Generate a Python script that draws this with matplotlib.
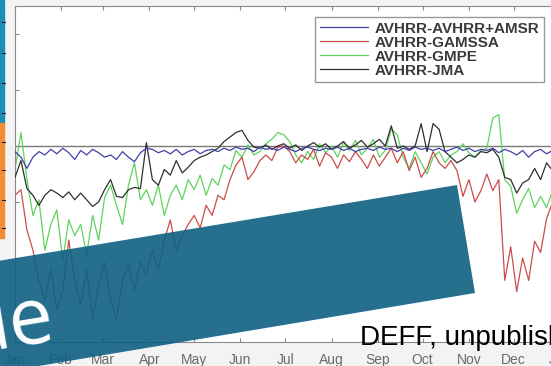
import numpy as np
import matplotlib
matplotlib.use("Agg")
import matplotlib.pyplot as plt
from matplotlib.patches import Polygon, Rectangle
from matplotlib.lines import Line2D

# day of year, every 4th day
days = np.arange(1, 365, 4)

amsr = [-0.05, -0.10, -0.20, -0.10, -0.05, -0.08, -0.03, -0.07, -0.02, -0.06,
        -0.12, -0.04, -0.08, -0.03, -0.06, -0.10, -0.08, -0.12, -0.05, -0.10,
        -0.14, -0.06, -0.02, -0.03, -0.06, -0.04, -0.07, -0.03, -0.08, -0.05,
        -0.03, -0.07, -0.04, -0.03, -0.05, -0.02, -0.04, -0.01, -0.03, -0.02,
        -0.05, -0.01, -0.03, -0.02, -0.04, -0.01, -0.03, -0.05, -0.02, -0.01,
        -0.03, -0.04, -0.02, -0.03, -0.01, -0.04, -0.02, -0.05, -0.03, -0.02,
        -0.04, -0.01, -0.03, -0.02, -0.05, -0.02, -0.04, -0.01, -0.03, -0.02,
        -0.04, -0.02, -0.05, -0.03, -0.01, -0.04, -0.02, -0.05, -0.03, -0.04,
        -0.02, -0.06, -0.03, -0.05, -0.08, -0.04, -0.10, -0.05, -0.03, -0.07, -0.04]

gamssa = [-0.44, -0.39, -0.75, -0.93, -1.20, -1.38, -1.10, -1.46, -1.29, -0.84,
          -1.20, -1.42, -1.10, -1.55, -1.25, -1.04, -1.38, -1.55, -1.20, -1.06,
          -1.29, -1.04, -1.15, -0.93, -1.10, -0.84, -0.66, -0.93, -0.80, -0.70,
          -0.62, -0.73, -0.53, -0.62, -0.44, -0.48, -0.30, -0.17, -0.10, -0.30,
          -0.23, -0.13, -0.08, -0.13, -0.01, 0.00, -0.05, -0.15, -0.08, -0.12,
          -0.03, -0.18, -0.06, -0.10, -0.20, -0.08, -0.14, -0.05, -0.12, -0.20,
          -0.08, -0.18, -0.10, -0.02, -0.15, -0.05, -0.22, -0.10, -0.28, -0.20,
          -0.05, -0.15, -0.20, -0.13, -0.22, -0.45, -0.30, -0.50, -0.40, -0.25,
          -0.40, -0.30, -1.20, -0.90, -1.30, -1.00, -1.20, -0.85, -0.95, -0.65, -0.50]

gmpe = [-0.21, 0.12, -0.30, -0.62, -0.48, -0.93, -0.70, -0.57, -1.02, -0.66,
        -0.80, -0.70, -0.97, -0.62, -0.84, -0.46, -0.35, -0.53, -0.70, -0.35,
        -0.15, -0.48, -0.39, -0.53, -0.35, -0.62, -0.44, -0.35, -0.48, -0.30,
        -0.39, -0.26, -0.44, -0.29, -0.35, -0.17, -0.21, -0.04, -0.10, 0.01,
        -0.08, -0.05, 0.02, 0.06, 0.12, 0.10, 0.04, -0.08, -0.15, -0.05,
        -0.12, 0.02, -0.06, 0.00, -0.10, 0.03, -0.04, 0.05, -0.08, -0.02,
        0.06, -0.10, -0.04, 0.15, 0.10, -0.10, -0.20, -0.05, -0.15, -0.25,
        -0.10, -0.05, -0.15, -0.08, -0.05, 0.02, -0.06, -0.10, -0.04, -0.02,
        0.25, 0.28, -0.30, -0.36, -0.60, -0.48, -0.38, -0.55, -0.45, -0.55, -0.40]

jma = [-0.28, -0.13, -0.38, -0.44, -0.53, -0.44, -0.39, -0.42, -0.46, -0.41,
       -0.48, -0.42, -0.48, -0.54, -0.50, -0.39, -0.30, -0.45, -0.46, -0.39,
       -0.37, -0.38, 0.03, -0.30, -0.35, -0.21, -0.26, -0.13, -0.24, -0.19,
       -0.13, -0.10, -0.08, -0.05, -0.02, 0.04, 0.08, 0.12, 0.14, 0.05,
       -0.01, -0.02, 0.01, -0.03, 0.00, 0.02, -0.02, 0.01, -0.04, 0.00,
       0.03, -0.01, 0.02, -0.03, 0.00, 0.04, -0.02, 0.01, 0.05, -0.01,
       0.02, 0.06, 0.00, 0.18, -0.02, 0.00, -0.03, 0.00, 0.20, -0.05,
       0.20, 0.15, -0.05, -0.10, -0.15, -0.12, -0.08, -0.10, -0.05, -0.06,
       -0.03, -0.10, -0.28, -0.30, -0.42, -0.33, -0.30, -0.20, -0.30, -0.15, -0.22]

series_names = ["AVHRR-AVHRR+AMSR", "AVHRR-GAMSSA", "AVHRR-GMPE", "AVHRR-JMA"]
month_ticks = [1, 32, 60, 91, 121, 152, 182, 213, 244, 274, 305, 335, 366]
month_labels = ["Jan", "Feb", "Mar", "Apr", "May", "Jun", "Jul",
                "Aug", "Sep", "Oct", "Nov", "Dec", "Jan"]

W, H = 551, 366


def fp(x, y):
    # pixel position -> figure fraction
    return (x / W, 1 - y / H)


fig = plt.figure(figsize=(W / 100, H / 100), dpi=100, facecolor="#f3f3f3")

ax = fig.add_axes([15 / W, 24 / H, 545 / W, 336 / H])
ax.set_facecolor("white")

ax.axhline(0, color="#7a7a7a", lw=1.0, zorder=1)
ax.plot(days, gmpe, color="#5ed35e", lw=0.9, zorder=2, label=series_names[2])
ax.plot(days, gamssa, color="#cc4b4b", lw=0.9, zorder=3, label=series_names[1])
ax.plot(days, jma, color="#2f2f2f", lw=0.9, zorder=3, label=series_names[3])
ax.plot(days, amsr, color="#4040a8", lw=0.9, zorder=4, label=series_names[0])

ax.set_xlim(1, 366)
ax.set_ylim(-1.75, 1.25)
ax.set_xticks(month_ticks)
ax.set_xticklabels(month_labels, fontsize=10, color="#6a6a6a",
                   family="Liberation Sans")
ax.set_yticks([-1.5, -1, -0.5, 0, 0.5, 1])
ax.tick_params(axis="both", direction="in", length=3, color="#888888",
               top=True, labelleft=False, pad=8)
for s in ax.spines.values():
    s.set_color("#8a8a8a")
    s.set_linewidth(0.8)

h, l = ax.get_legend_handles_labels()
order = [3, 1, 0, 2]
leg = ax.legend([h[i] for i in order], [l[i] for i in order],
                loc="upper left", bbox_to_anchor=fp(315, 17),
                bbox_transform=fig.transFigure, borderaxespad=0,
                fancybox=False, edgecolor="#999999", framealpha=1,
                prop={"family": "Liberation Sans", "size": 11, "weight": "bold"},
                handlelength=3.2, labelspacing=0.0, borderpad=0.3,
                handletextpad=0.4)
for t in leg.get_texts():
    t.set_color("#3a3a3a")

# left edge: piece of the neighbouring slide element
fig.patches.append(Rectangle(fp(0, 123), 4 / W, 123 / H, transform=fig.transFigure,
                             color="#1c8db5", zorder=5))
fig.patches.append(Rectangle(fp(0, 238), 4 / W, 115 / H, transform=fig.transFigure,
                             color="#f28c35", zorder=5))
for ty in [22, 53, 83, 113, 142, 170, 200, 228]:
    fig.add_artist(Line2D([2 / W, 5 / W], [1 - ty / H, 1 - ty / H],
                          color="#222222", lw=0.8, zorder=6))

# rotated banner across the chart
banner = Polygon([fp(457, 185), fp(475, 293), fp(-117, 392), fp(-135, 283)],
                 closed=True, transform=fig.transFigure,
                 facecolor="#0e6082", alpha=0.9, edgecolor="none", zorder=10)
fig.patches.append(banner)
fig.text(57 / W, 1 - 339 / H, "ue", color="white", fontsize=57,
         family="Open Sans", rotation=9.5, rotation_mode="anchor",
         ha="right", va="baseline", zorder=11)

fig.text(360 / W, 1 - 345 / H, "DEFF, unpublished", color="black",
         fontsize=20, family="Liberation Sans", ha="left", va="baseline",
         zorder=11)

fig.savefig("out.png", dpi=100, facecolor=fig.get_facecolor())
